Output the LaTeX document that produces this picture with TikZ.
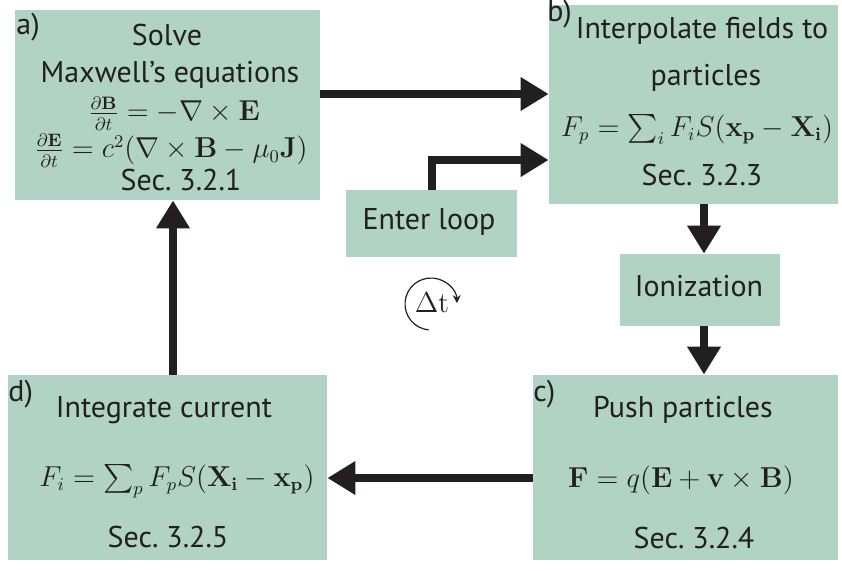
\documentclass[tikz,border=0pt]{standalone}
\usepackage[no-math]{fontspec}
\usepackage{exscale}
\setmainfont{PT Sans}
\usetikzlibrary{arrows.meta}
\definecolor{boxfill}{RGB}{176,211,196}
\definecolor{ink}{RGB}{35,31,32}
\begin{document}
\begin{tikzpicture}[x=0.5pt,y=-0.5pt,
  box/.style={fill=boxfill, draw=none, inner sep=0pt, rectangle},
  lbl/.style={text=ink, font=\fontsize{15}{18}\selectfont, inner sep=0pt, anchor=base},
  tag/.style={text=ink, font=\fontsize{15}{18}\selectfont, inner sep=0pt, anchor=base west},
  eqn/.style={text=ink, font=\fontsize{13.5}{16}\selectfont, inner sep=0pt, anchor=base},
  arr/.style={draw=ink, line width=4pt, -{Triangle[width=16pt,length=14pt]}},
]
\useasboundingbox (0,0) rectangle (842,570);
% boxes
\node[box, minimum width=152.5pt, minimum height=95pt] (a) at (167.5,105) {};
\node[box, minimum width=144.5pt, minimum height=99.5pt] (b) at (693.5,104.5) {};
\node[box, minimum width=85.5pt, minimum height=33.5pt] (enter) at (431.5,223.5) {};
\node[box, minimum width=80pt, minimum height=36pt] (ion) at (700,290) {};
\node[box, minimum width=152.5pt, minimum height=92.5pt] (c) at (685.5,467.5) {};
\node[box, minimum width=159.5pt, minimum height=92.5pt] (d) at (167.5,467.5) {};
% box a texts
\node[tag] (ta) at (16,34) {a)};
\node[lbl] (a1) at (167,45) {Solve};
\node[lbl] (a2) at (170,82) {Maxwell’s equations};
\node[eqn, anchor=center] (a3) at (174,114) {$\frac{\partial \mathbf{B}}{\partial t} = -\nabla\times\mathbf{E}$};
\node[eqn, anchor=center] (a4) at (171,151) {$\frac{\partial \mathbf{E}}{\partial t} = c^2(\nabla\times\mathbf{B} - \mu_0\mathbf{J})$};
\node[lbl] (a5) at (181,190) {Sec.\ 3.2.1};
% box b texts
\node[tag] (tb) at (547,21) {b)};
\node[lbl] (b1) at (702,38) {Interpolate fields to};
\node[lbl] (b2) at (706,85) {particles};
\node[eqn] (b3) at (697,136) {$F_p = \sum_i F_i S(\mathbf{x_p} - \mathbf{X_i})$};
\node[lbl] (b4) at (702,185) {Sec.\ 3.2.3};
% enter loop, ionization
\node[lbl] (e1) at (429,229) {Enter loop};
\node[lbl] (i1) at (699,296) {Ionization};
% box c texts
\node[tag] (tc) at (533,401) {c)};
\node[lbl] (c1) at (683,417) {Push particles};
\node[eqn] (c2) at (681,487) {$\mathbf{F} = q(\mathbf{E} + \mathbf{v}\times\mathbf{B})$};
\node[lbl] (c3) at (694,548) {Sec.\ 3.2.4};
% box d texts
\node[tag] (td) at (8,401) {d)};
\node[lbl] (d1) at (164,417) {Integrate current};
\node[eqn] (d2) at (177,486) {$F_i = \sum_p F_p S(\mathbf{X_i} - \mathbf{x_p})$};
\node[lbl] (d3) at (168,547) {Sec.\ 3.2.5};
% delta t
\node[eqn, anchor=center] (dt) at (432,303) {$\Delta\mathrm{t}$};
\draw[ink, line width=0.6pt, -{Stealth[length=4pt,width=4pt]}] (431,304) ++(95:26) arc[start angle=95, end angle=358, radius=26];
% arrows
\draw[arr] (a.east |- 0,94) -- (b.west |- 0,94);
\draw[arr] (b.south -| 704,0) -- (ion.north -| 704,0);
\draw[arr] (ion.south -| 704,0) -- (c.north -| 704,0);
\draw[arr] (c.west |- 0,478) -- (d.east |- 0,478);
\draw[arr] (d.north -| 173,0) -- (a.south -| 173,0);
\draw[arr] (enter.north) |- (b.west |- 0,160);
\end{tikzpicture}
\end{document}
